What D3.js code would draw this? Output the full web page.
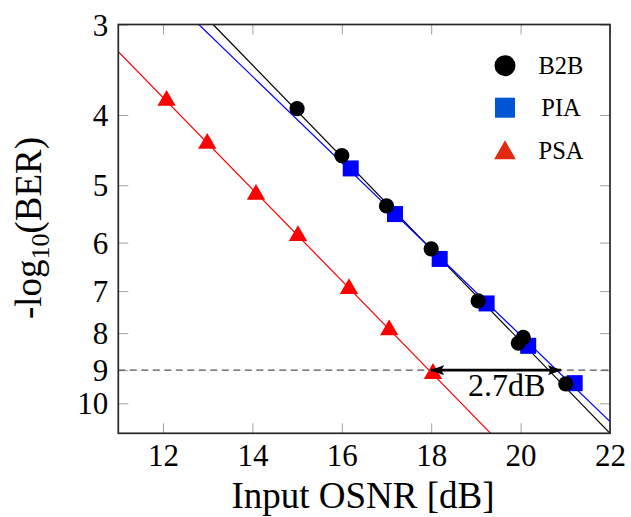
<!DOCTYPE html>
<html>
  <head>
    <meta charset="utf-8">
    <title>BER vs OSNR</title>
    <script src="https://d3js.org/d3.v7.min.js"></script>
    <style>
      body { margin: 0; background: #fff; }
      text { font-family: "Liberation Serif", "Times New Roman", serif; fill: #000; }
    </style>
  </head>
  <body>
    <div id="chart"></div>
  <script>
    // values
    var xTicks = [12, 14, 16, 18, 20, 22];
    var yTicks = [3, 4, 5, 6, 7, 8, 9, 10];

    var b2bX = [15, 16, 17, 18, 19.05, 19.95, 20.06, 21.01];
    var b2bY = [3.92, 4.55, 5.34, 6.12, 7.22, 8.26, 8.11, 9.4];
    var piaX = [16.2, 17.19, 18.19, 19.24, 20.17, 21.21];
    var piaY = [4.74, 5.48, 6.32, 7.28, 8.33, 9.38];
    var psaX = [12.08, 12.99, 14.08, 15.02, 16.16, 17.06, 18.04];
    var psaY = [3.82, 4.38, 5.15, 5.87, 6.95, 7.92, 9.1];

    // fitted lines (end points)
    var b2bFitX = [13.12, 22], b2bFitY = [3, 11];
    var piaFitX = [12.8, 22], piaFitY = [3, 10.6];
    var psaFitX = [11, 19.33], psaFitY = [3.27, 11];

    var refLevel = 9;
    var arrowX = [18, 20.9];
    var arrowLabel = "2.7dB";

    var series = ["B2B", "PIA", "PSA"];

    var W = 631, H = 517;
    var pLeft = 118.3, pRight = 610, pTop = 24.5, pBottom = 433.3;

    var svg = d3.select("#chart").append("svg")
        .attr("width", W)
        .attr("height", H);

    var x = d3.scaleLinear().domain([11, 22]).range([pLeft, pRight]);
    var y = d3.scaleLog().domain([3, 11]).range([pTop, pBottom]);

    var defs = svg.append("defs");
    defs.append("clipPath").attr("id", "clip")
      .append("rect")
        .attr("x", pLeft).attr("y", pTop)
        .attr("width", pRight - pLeft).attr("height", pBottom - pTop);

    // axes (ticks inward)
    var gx = svg.append("g")
        .attr("transform", "translate(0," + pBottom + ")")
        .call(d3.axisBottom(x).tickValues(xTicks).tickSize(-10).tickPadding(10.7));
    var gxTop = svg.append("g")
        .attr("transform", "translate(0," + pTop + ")")
        .call(d3.axisTop(x).tickValues(xTicks).tickSize(-10).tickFormat(""));
    var gy = svg.append("g")
        .attr("transform", "translate(" + pLeft + ",0)")
        .call(d3.axisLeft(y).tickValues(yTicks).tickSize(-10).tickPadding(10).tickFormat(d3.format("d")));
    var gyRight = svg.append("g")
        .attr("transform", "translate(" + pRight + ",0)")
        .call(d3.axisRight(y).tickValues(yTicks).tickSize(-10).tickFormat(""));

    [gx, gxTop, gy, gyRight].forEach(function(g) {
      g.select(".domain").remove();
      g.selectAll(".tick line").attr("stroke", "#a0a0a0").attr("stroke-width", 1);
      g.selectAll(".tick text")
        .style("font-family", "'Liberation Serif', serif")
        .style("font-size", "31px")
        .attr("fill", "#000");
    });
    gy.selectAll(".tick text").attr("dy", "0.34em");

    var plot = svg.append("g").attr("clip-path", "url(#clip)");

    function fitLine(xs, ys, color) {
      plot.append("line")
        .attr("x1", x(xs[0])).attr("y1", y(ys[0]))
        .attr("x2", x(xs[1])).attr("y2", y(ys[1]))
        .attr("stroke", color)
        .attr("stroke-width", 1.2);
    }
    fitLine(b2bFitX, b2bFitY, "#000");
    fitLine(piaFitX, piaFitY, "#0000ff");
    fitLine(psaFitX, psaFitY, "#ff0000");

    // dashed reference
    svg.append("line")
      .attr("x1", pLeft).attr("x2", pRight)
      .attr("y1", y(refLevel)).attr("y2", y(refLevel))
      .attr("stroke", "#555")
      .attr("stroke-width", 1.2)
      .attr("stroke-dasharray", "7,4.5");

    // markers
    plot.selectAll(".psa")
      .data(d3.zip(psaX, psaY))
      .enter().append("path")
        .attr("class", "psa")
        .attr("d", d3.symbol().type(d3.symbolTriangle).size(145))
        .attr("transform", function(d) { return "translate(" + x(d[0]) + "," + y(d[1]) + ")"; })
        .attr("fill", "#ff0000");

    plot.selectAll(".pia")
      .data(d3.zip(piaX, piaY))
      .enter().append("rect")
        .attr("class", "pia")
        .attr("x", function(d) { return x(d[0]) - 8; })
        .attr("y", function(d) { return y(d[1]) - 8; })
        .attr("width", 16).attr("height", 16)
        .attr("fill", "#0000ff");

    plot.selectAll(".b2b")
      .data(d3.zip(b2bX, b2bY))
      .enter().append("circle")
        .attr("class", "b2b")
        .attr("cx", function(d) { return x(d[0]); })
        .attr("cy", function(d) { return y(d[1]); })
        .attr("r", 7.6)
        .attr("fill", "#000");

    // double arrow
    defs.append("marker")
        .attr("id", "head")
        .attr("viewBox", "0 0 14 10")
        .attr("refX", 13).attr("refY", 5)
        .attr("markerWidth", 14).attr("markerHeight", 10)
        .attr("markerUnits", "userSpaceOnUse")
        .attr("orient", "auto-start-reverse")
      .append("path")
        .attr("d", "M0,0 L14,5 L0,10 L3,5 Z")
        .attr("fill", "#000");

    svg.append("line")
      .attr("x1", x(arrowX[0])).attr("x2", x(arrowX[1]))
      .attr("y1", y(refLevel)).attr("y2", y(refLevel))
      .attr("stroke", "#000")
      .attr("stroke-width", 2.6)
      .attr("marker-start", "url(#head)")
      .attr("marker-end", "url(#head)");

    svg.append("text")
      .attr("x", 506.7).attr("y", 396)
      .attr("text-anchor", "middle")
      .style("font-size", "32px")
      .text(arrowLabel);

    // frame
    svg.append("rect")
      .attr("x", pLeft).attr("y", pTop)
      .attr("width", pRight - pLeft).attr("height", pBottom - pTop)
      .attr("fill", "none")
      .attr("stroke", "#262626")
      .attr("stroke-width", 1.7);

    // legend
    var lg = svg.append("g");
    var legY = [65.7, 107.7, 152.9];
    lg.append("circle").attr("cx", 505).attr("cy", legY[0]).attr("r", 10.5).attr("fill", "#000");
    lg.append("rect").attr("x", 495).attr("y", legY[1] - 10).attr("width", 20).attr("height", 20).attr("fill", "#0055d4");
    lg.append("path")
      .attr("d", d3.symbol().type(d3.symbolTriangle).size(204))
      .attr("transform", "translate(505," + legY[2] + ")")
      .attr("fill", "#e32a10");
    lg.selectAll(".leg-text")
      .data(series)
      .enter().append("text")
        .attr("class", "leg-text")
        .attr("x", 561)
        .attr("y", function(d, i) { return [74.3, 116, 158.7][i]; })
        .attr("text-anchor", "middle")
        .style("font-size", "24.5px")
        .text(function(d) { return d; });

    // axis titles
    svg.append("text")
      .attr("x", 363).attr("y", 508)
      .attr("text-anchor", "middle")
      .style("font-size", "37px")
      .text("Input OSNR [dB]");

    var yl = svg.append("text")
      .attr("transform", "translate(41,228) rotate(-90)")
      .attr("text-anchor", "middle")
      .style("font-size", "37px");
    yl.append("tspan").text("-log");
    yl.append("tspan").attr("dy", 8).style("font-size", "26px").text("10");
    yl.append("tspan").attr("dy", -8).text("(BER)");
  </script>
  </body>
</html>
